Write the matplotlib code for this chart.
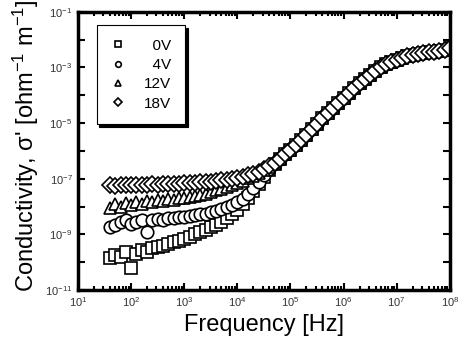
import matplotlib
matplotlib.use("Agg")
import matplotlib.pyplot as plt
import matplotlib.ticker as ticker
import numpy as np

plt.rcParams['font.family'] = ['Liberation Sans', 'DejaVu Sans']
plt.rcParams['mathtext.default'] = 'regular'

# log10 of frequency [Hz] for every measured point
log_f = [1.6, 1.7, 1.8, 1.9, 2.0, 2.1, 2.2, 2.3, 2.4, 2.5,
         2.6, 2.7, 2.8, 2.9, 3.0, 3.1, 3.2, 3.3, 3.4, 3.5,
         3.6, 3.7, 3.8, 3.9, 4.0, 4.1, 4.2, 4.3, 4.4, 4.5,
         4.6, 4.7, 4.8, 4.9, 5.0, 5.1, 5.2, 5.3, 5.4, 5.5,
         5.6, 5.7, 5.8, 5.9, 6.0, 6.1, 6.2, 6.3, 6.4, 6.5,
         6.6, 6.7, 6.8, 6.9, 7.0, 7.1, 7.2, 7.3, 7.4, 7.5,
         7.6, 7.7, 7.8, 7.9, 8.0]

# high frequency part where all bias voltages coincide (log10 sigma)
tail = [-6.28, -6.12, -5.96, -5.78, -5.60, -5.41, -5.22, -5.02,
        -4.83, -4.64, -4.45, -4.26, -4.08, -3.90, -3.73, -3.56, -3.40, -3.26,
        -3.12, -3.00, -2.89, -2.80, -2.72, -2.65, -2.59, -2.54, -2.50, -2.47,
        -2.45, -2.43, -2.41, -2.38, -2.30]

# low frequency part, log10 sigma, 1.6 .. 4.7
low_0V = [-9.85, -9.75, -9.80, -9.65, -10.20, -9.70, -9.55, -9.62, -9.50, -9.45,
          -9.40, -9.35, -9.28, -9.22, -9.15, -9.08, -9.00, -8.92, -8.85, -8.75,
          -8.66, -8.55, -8.42, -8.28, -8.12, -7.92, -7.70, -7.45, -7.20, -6.95,
          -6.70, -6.47]
low_4V = [-8.75, -8.65, -8.55, -8.50, -8.62, -8.55, -8.48, -8.90, -8.50, -8.45,
          -8.48, -8.40, -8.42, -8.36, -8.38, -8.33, -8.32, -8.28, -8.25, -8.20,
          -8.15, -8.10, -8.03, -7.95, -7.85, -7.72, -7.55, -7.35, -7.12, -6.88,
          -6.65, -6.45]
low_12V = [-8.05, -7.92, -8.00, -7.88, -7.95, -7.83, -7.90, -7.80, -7.85, -7.77,
           -7.80, -7.72, -7.75, -7.68, -7.70, -7.64, -7.63, -7.58, -7.54, -7.48,
           -7.42, -7.36, -7.29, -7.22, -7.15, -7.07, -6.99, -6.90, -6.80, -6.69,
           -6.57, -6.44]
low_18V = [-7.22, -7.25, -7.22, -7.24, -7.22, -7.23, -7.21, -7.22, -7.20, -7.21,
           -7.19, -7.20, -7.18, -7.18, -7.16, -7.16, -7.14, -7.13, -7.11, -7.10,
           -7.08, -7.06, -7.03, -7.00, -6.97, -6.93, -6.88, -6.82, -6.75, -6.66,
           -6.55, -6.42]

labels = ["\u20070V", "\u20074V", "12V", "18V"]
markers = ["s", "o", "^", "D"]
sizes = [8.5, 9.0, 9.0, 8.5]

freq = 10.0 ** np.array(log_f)
series = [low_0V, low_4V, low_12V, low_18V]

fig = plt.figure(figsize=(4.59, 3.49), dpi=100)
ax = fig.add_axes([0.170, 0.169, 0.810, 0.797])

for low, lab, mk, ms in zip(series, labels, markers, sizes):
    sigma = 10.0 ** np.array(low + tail)
    ax.plot(freq, sigma, linestyle='none', marker=mk, markersize=ms,
            markerfacecolor='white', markeredgecolor='black',
            markeredgewidth=1.2, label=lab)

ax.set_xscale('log')
ax.set_yscale('log')
ax.set_xlim(1e1, 1e8)
ax.set_ylim(1e-11, 1e-1)

ax.xaxis.set_major_locator(ticker.LogLocator(base=10, numticks=20))
ax.xaxis.set_minor_locator(ticker.LogLocator(base=10, subs=np.arange(2, 10), numticks=20))
ax.yaxis.set_major_locator(ticker.FixedLocator([10.0 ** e for e in range(-11, 0, 2)]))
ax.yaxis.set_minor_locator(ticker.FixedLocator([10.0 ** e for e in range(-10, 0, 2)]))
ax.yaxis.set_major_formatter(ticker.LogFormatterMathtext())
ax.yaxis.set_minor_formatter(ticker.NullFormatter())

ax.tick_params(which='both', direction='in', top=True, right=True,
               labelsize=8, labelcolor='#333333', width=1.5)
ax.tick_params(which='major', length=5, pad=4)
ax.tick_params(which='minor', length=3)
ax.tick_params(axis='y', which='minor', length=5)
for sp in ax.spines.values():
    sp.set_linewidth(2.5)

ax.set_xlabel("Frequency [Hz]", fontsize=17, labelpad=3)
ax.set_ylabel("Conductivity, \u03c3' [ohm$^{-1}$ m$^{-1}$]", fontsize=17)
ax.yaxis.set_label_coords(-0.10, 0.52)

leg = ax.legend(loc='upper left', bbox_to_anchor=(0.05, 0.953), borderaxespad=0,
                markerscale=0.45, fontsize=11, frameon=True, fancybox=False,
                shadow={'color': 'black', 'alpha': 1.0},
                edgecolor='black', handletextpad=1.2, labelspacing=0.35,
                borderpad=0.9, handlelength=1.0)
leg.get_frame().set_linewidth(0.8)

fig.savefig("out.png", dpi=100)
